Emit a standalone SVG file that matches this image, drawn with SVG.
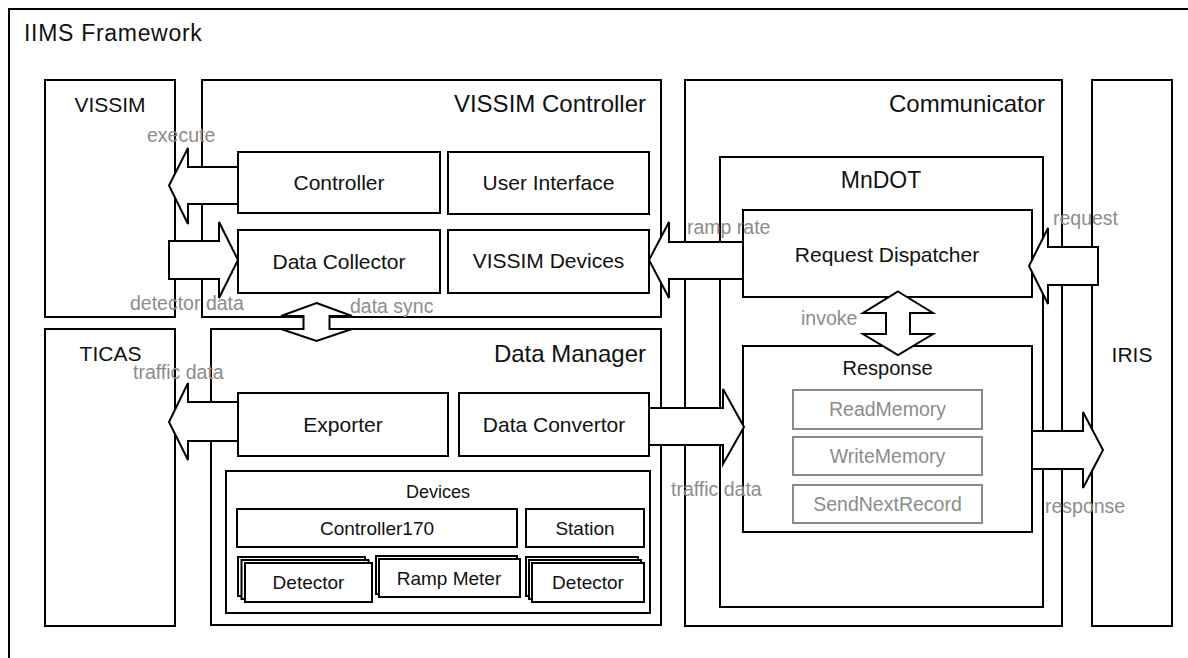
<svg xmlns="http://www.w3.org/2000/svg" width="1188" height="658" viewBox="0 0 1188 658">
<defs>
<style>
text{font-family:"Liberation Sans",Arial,sans-serif;fill:#111}
.box{fill:#fff;stroke:#000;stroke-width:2}
.gbox{fill:#fff;stroke:#8a8a8a;stroke-width:2}
.arr{fill:#fff;stroke:#000;stroke-width:2;stroke-linejoin:miter}
.hdr{font-size:24px}
.lbl{font-size:21px}
.sm{font-size:19px}
.glbl{font-size:19.5px;fill:#8c8c8c}
.gtxt{font-size:19.5px;fill:#8c8c8c}
.mid{text-anchor:middle}
.end{text-anchor:end}
</style>
</defs>
<rect width="1188" height="658" fill="#fff"/>
<g id="frame">
<path d="M9,658 V9 H1188" fill="none" stroke="#000" stroke-width="2"/>
<text x="24" y="41" style="font-size:23px;letter-spacing:0.7px">IIMS Framework</text>
</g>
<g id="vissim">
<rect class="box" x="45" y="80" width="130" height="237"/>
<text class="lbl mid" x="110" y="112">VISSIM</text>
</g>
<g id="vissim-controller">
<rect class="box" x="202" y="80" width="459" height="237"/>
<text class="hdr end" x="646" y="112">VISSIM Controller</text>
</g>
<g id="controller">
<rect class="box" x="238" y="152" width="202" height="61"/>
<text class="lbl mid" x="339" y="190">Controller</text>
</g>
<g id="user-interface">
<rect class="box" x="448" y="152" width="201" height="62"/>
<text class="lbl mid" x="548.5" y="190">User Interface</text>
</g>
<g id="data-collector">
<rect class="box" x="238" y="230" width="202" height="63"/>
<text class="lbl mid" x="339" y="269">Data Collector</text>
</g>
<g id="vissim-devices">
<rect class="box" x="448" y="230" width="201" height="63"/>
<text class="lbl mid" x="548.5" y="268">VISSIM Devices</text>
</g>
<g id="ticas">
<rect class="box" x="45" y="329" width="130" height="297"/>
<text class="lbl mid" x="110.5" y="361">TICAS</text>
</g>
<g id="data-manager">
<rect class="box" x="211" y="329" width="450" height="296"/>
<text class="hdr end" x="646" y="362">Data Manager</text>
</g>
<g id="exporter">
<rect class="box" x="238" y="393" width="210" height="63"/>
<text class="lbl mid" x="343" y="432">Exporter</text>
</g>
<g id="data-convertor">
<rect class="box" x="459" y="393" width="190" height="63"/>
<text class="lbl mid" x="554" y="432">Data Convertor</text>
</g>
<g id="devices">
<rect class="box" x="226" y="471" width="424" height="142"/>
<text class="sm mid" x="438" y="498" style="font-size:18px">Devices</text>
</g>
<g id="controller170">
<rect class="box" x="237" y="509" width="280" height="38"/>
<text class="sm mid" x="377" y="535">Controller170</text>
</g>
<g id="station">
<rect class="box" x="526" y="509" width="118" height="38"/>
<text class="sm mid" x="585" y="535">Station</text>
</g>
<g id="detector-left">
<rect class="box" x="238" y="557" width="127" height="39"/>
<rect class="box" x="241.5" y="560" width="127" height="39"/>
<rect class="box" x="245" y="563" width="127" height="39"/>
<text class="sm mid" x="308.5" y="589">Detector</text>
</g>
<g id="ramp-meter">
<rect class="box" x="376" y="556" width="141" height="38"/>
<rect class="box" x="379" y="559" width="141" height="38"/>
<text class="sm mid" x="449" y="585">Ramp Meter</text>
</g>
<g id="detector-right">
<rect class="box" x="526" y="557" width="112" height="39"/>
<rect class="box" x="529" y="560" width="112" height="39"/>
<rect class="box" x="532" y="563" width="112" height="39"/>
<text class="sm mid" x="588" y="589">Detector</text>
</g>
<g id="communicator">
<rect class="box" x="685" y="80" width="377" height="546"/>
<text class="hdr end" x="1045" y="112">Communicator</text>
</g>
<g id="mndot">
<rect class="box" x="720" y="157" width="323" height="450"/>
<text class="lbl mid" x="881" y="188" style="font-size:23px">MnDOT</text>
</g>
<g id="request-dispatcher">
<rect class="box" x="743" y="210" width="289" height="87"/>
<text class="lbl mid" x="887" y="262">Request Dispatcher</text>
</g>
<g id="response">
<rect class="box" x="743" y="346" width="289" height="186"/>
<text class="lbl mid" x="887.5" y="375" style="font-size:20px">Response</text>
</g>
<g id="read-memory">
<rect class="gbox" x="793" y="390" width="189" height="39"/>
<text class="gtxt mid" x="887.5" y="416">ReadMemory</text>
</g>
<g id="write-memory">
<rect class="gbox" x="793" y="437" width="189" height="38"/>
<text class="gtxt mid" x="887.5" y="463">WriteMemory</text>
</g>
<g id="send-next-record">
<rect class="gbox" x="793" y="485" width="189" height="38"/>
<text class="gtxt mid" x="887.5" y="511">SendNextRecord</text>
</g>
<g id="iris">
<rect class="box" x="1092" y="80" width="80" height="546"/>
<text class="lbl mid" x="1132" y="362">IRIS</text>
</g>
<g id="connectors">
<polygon class="arr" points="238,167 188,167 188,148 169,185.5 188,224 188,204 238,204"/>
<polygon class="arr" points="169,241 219,241 219,222 238,260 219,298 219,279 169,279"/>
<polygon class="arr" points="316.5,303 352,316 329.5,316 329.5,329 352,329 316.5,341 281,329 303.5,329 303.5,316 281,316"/>
<polygon class="arr" points="238,402 188,402 188,383 169,422 188,460 188,441 238,441"/>
<polygon class="arr" points="743,242 669,242 669,222 649,260 669,298 669,279 743,279"/>
<polygon class="arr" points="649,408 723,408 723,389 744,427 723,464 723,445 649,445"/>
<polygon class="arr" points="1098,247 1048,247 1048,228 1029,266 1048,304 1048,285 1098,285"/>
<polygon class="arr" points="1032,431 1083,431 1083,412 1103,450 1083,488 1083,469 1032,469"/>
<polygon class="arr" points="898,291.5 933,313 910,313 910,334 933,334 898,355 863,334 886,334 886,313 863,313"/>
</g>
<g id="connector-labels">
<text class="glbl" x="147" y="142">execute</text>
<text class="glbl" x="130" y="310">detector data</text>
<text class="glbl" x="350" y="313">data sync</text>
<text class="glbl" x="133" y="379">traffic data</text>
<text class="glbl" x="687" y="234">ramp rate</text>
<text class="glbl" x="1053" y="225">request</text>
<text class="glbl" x="801" y="325">invoke</text>
<text class="glbl" x="671" y="496">traffic data</text>
<text class="glbl" x="1045" y="513">response</text>
</g>
</svg>
